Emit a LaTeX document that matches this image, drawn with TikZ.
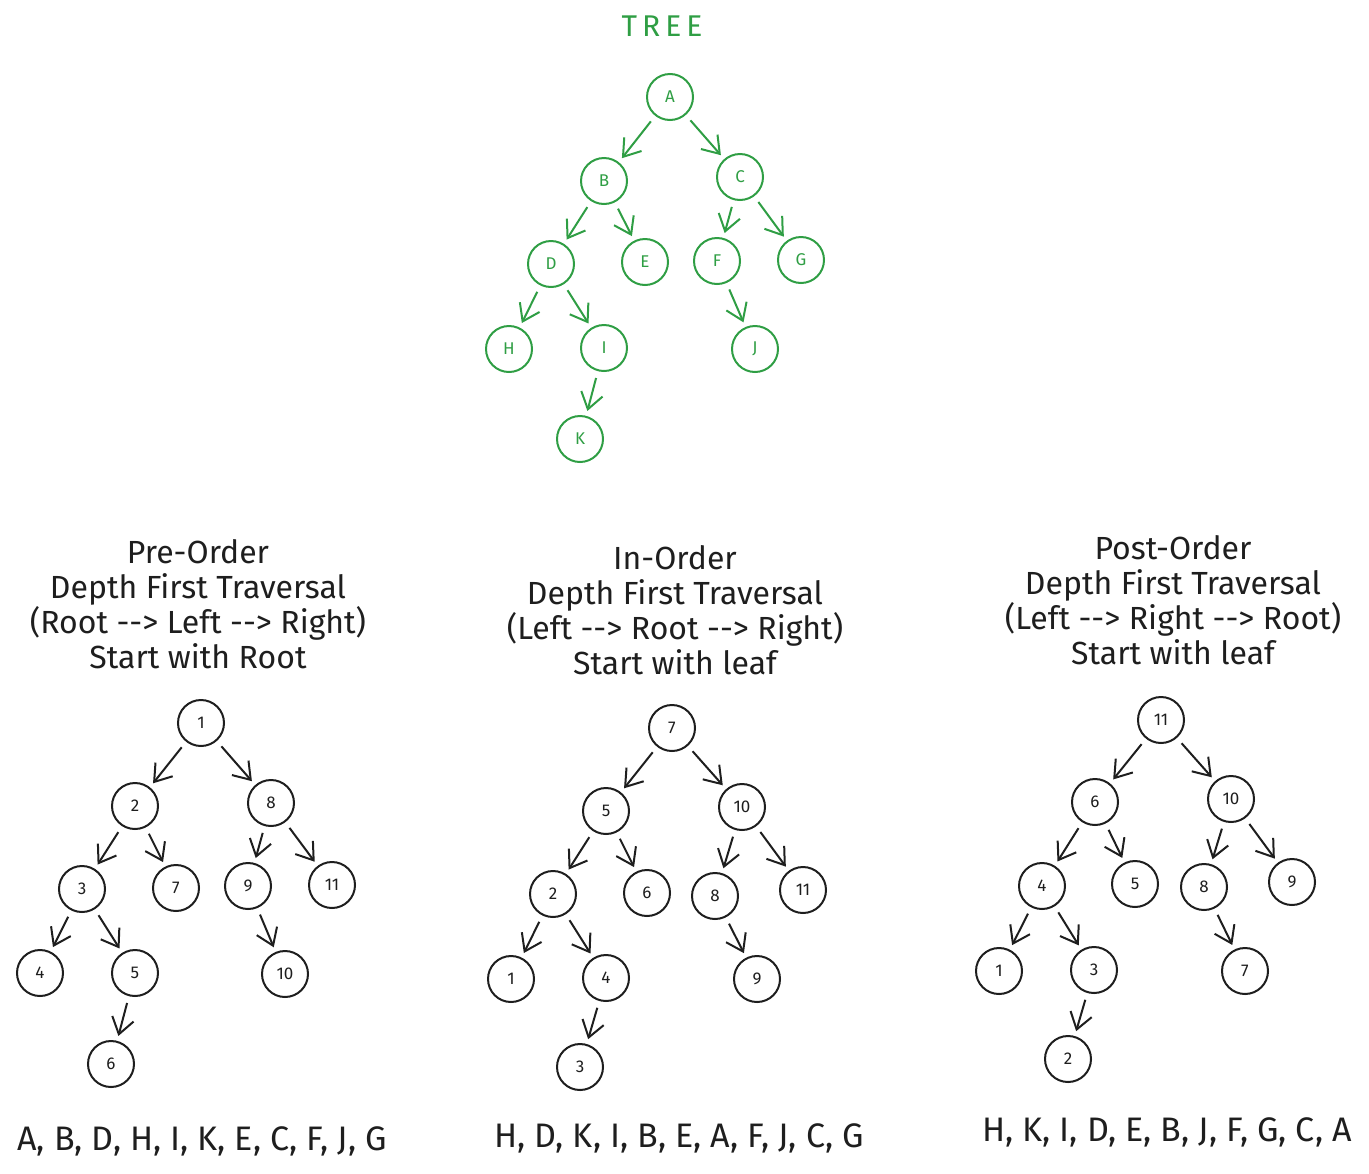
\documentclass[tikz,border=0pt]{standalone}
\usepackage{fontspec}
\setmainfont{Fira Sans}
\usetikzlibrary{arrows.meta}
\definecolor{ink}{HTML}{1E1E1E}
\definecolor{grn}{HTML}{2F9E44}
\newcommand{\arr}{-{}-{}>}
\begin{document}
\begin{tikzpicture}[x=0.5pt,y=-0.5pt,
 nd/.style={circle,draw=ink,line width=1pt,minimum size=23pt,inner sep=0pt,text=ink,font=\fontsize{8.5}{9}\selectfont},
 gnd/.style={nd,draw=grn,text=grn},
 ar/.style={draw=ink,line width=1pt,-{Straight Barb[length=8pt,width=11pt]},shorten >=2.5pt,shorten <=3.5pt},
 gar/.style={ar,draw=grn},
 ttl/.style={align=center,text=ink,font=\fontsize{16}{17.5}\selectfont},
 seq/.style={text=ink,font=\fontsize{17}{19}\selectfont}]
\useasboundingbox (0,0) rectangle (1369,1173);

% ---------- green tree ----------
\node[text=grn,font=\fontsize{15}{17}\selectfont] (tree) at (662,26) {T\,R\,E\,E};
\node[gnd] (A) at (670,97) {A};
\node[gnd] (B) at (604,181) {B};
\node[gnd] (C) at (740,177) {C};
\node[gnd] (D) at (551,264) {D};
\node[gnd] (E) at (645,262) {E};
\node[gnd] (F) at (717,261) {F};
\node[gnd] (G) at (801,260) {G};
\node[gnd] (H) at (509,349) {H};
\node[gnd] (I) at (604,348) {I};
\node[gnd] (J) at (755,349) {J};
\node[gnd] (K) at (580,439) {K};
\foreach \a/\b in {A/B,A/C,B/D,B/E,C/F,C/G,D/H,D/I,F/J,I/K}
  \draw[gar] (\a) -- (\b);

% ---------- pre-order ----------
\node[ttl] (t1) at (198,604) {Pre-Order\\Depth First Traversal\\(Root \arr{} Left \arr{} Right)\\Start with Root};
\node[nd] (p1) at (201,723) {1};
\node[nd] (p2) at (135,806) {2};
\node[nd] (p8) at (271,803) {8};
\node[nd] (p3) at (82,889) {3};
\node[nd] (p7) at (176,888) {7};
\node[nd] (p9) at (248,886) {9};
\node[nd] (p11) at (332,885) {11};
\node[nd] (p4) at (40,973) {4};
\node[nd] (p5) at (135,973) {5};
\node[nd] (p10) at (285,974) {10};
\node[nd] (p6) at (111,1064) {6};
\foreach \a/\b in {p1/p2,p1/p8,p2/p3,p2/p7,p8/p9,p8/p11,p3/p4,p3/p5,p9/p10,p5/p6}
  \draw[ar] (\a) -- (\b);
\node[seq] (s1) at (202,1141) {A, B, D, H, I, K, E, C, F, J, G};

% ---------- in-order ----------
\node[ttl] (t2) at (675,610) {In-Order\\Depth First Traversal\\(Left \arr{} Root \arr{} Right)\\Start with leaf};
\node[nd] (i7) at (672,728) {7};
\node[nd] (i5) at (606,811) {5};
\node[nd] (i10) at (742,807) {10};
\node[nd] (i2) at (553,894) {2};
\node[nd] (i6) at (647,893) {6};
\node[nd] (i8) at (715,896) {8};
\node[nd] (i11) at (803,890) {11};
\node[nd] (i1) at (511,979) {1};
\node[nd] (i4) at (606,978) {4};
\node[nd] (i9) at (757,979) {9};
\node[nd] (i3) at (580,1067) {3};
\foreach \a/\b in {i7/i5,i7/i10,i5/i2,i5/i6,i10/i8,i10/i11,i2/i1,i2/i4,i8/i9,i4/i3}
  \draw[ar] (\a) -- (\b);
\node[seq] (s2) at (679,1138) {H, D, K, I, B, E, A, F, J, C, G};

% ---------- post-order ----------
\node[ttl] (t3) at (1173,600) {Post-Order\\Depth First Traversal\\(Left \arr{} Right \arr{} Root)\\Start with leaf};
\node[nd] (q11) at (1161,720) {11};
\node[nd] (q6) at (1095,802) {6};
\node[nd] (q10) at (1231,799) {10};
\node[nd] (q4) at (1042,886) {4};
\node[nd] (q5) at (1135,884) {5};
\node[nd] (q8) at (1204,887) {8};
\node[nd] (q9) at (1292,882) {9};
\node[nd] (q1) at (999,971) {1};
\node[nd] (q3) at (1094,970) {3};
\node[nd] (q7) at (1245,971) {7};
\node[nd] (q2) at (1068,1059) {2};
\foreach \a/\b in {q11/q6,q11/q10,q6/q4,q6/q5,q10/q8,q10/q9,q4/q1,q4/q3,q8/q7,q3/q2}
  \draw[ar] (\a) -- (\b);
\node[seq] (s3) at (1167,1132) {H, K, I, D, E, B, J, F, G, C, A};
\end{tikzpicture}
\end{document}
